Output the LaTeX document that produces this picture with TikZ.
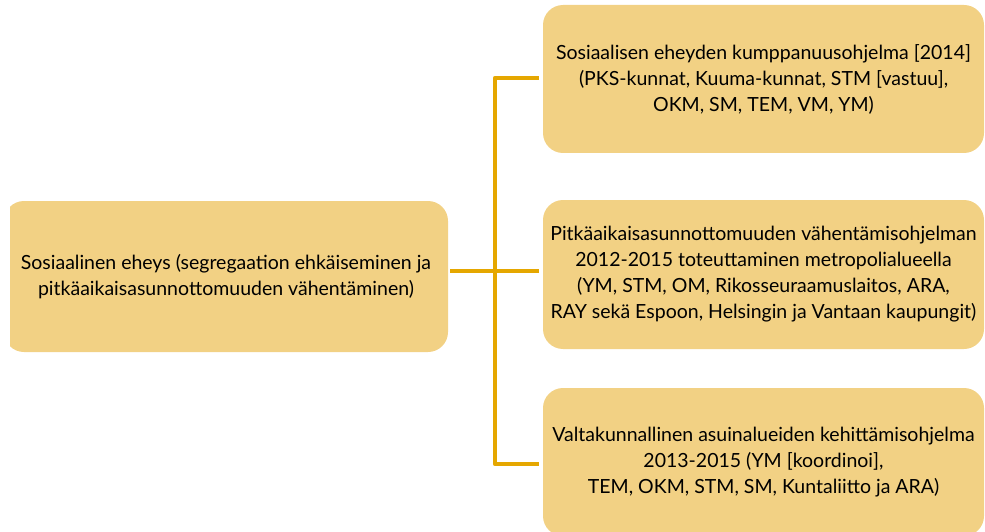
\documentclass[tikz,border=0pt]{standalone}
\usepackage{fontspec}
\setmainfont{Lato}
\definecolor{boxfill}{HTML}{F2D184}
\definecolor{linecol}{HTML}{E5A700}
\begin{document}
\begin{tikzpicture}[x=1pt,y={(0pt,-1pt)},
  box/.style={fill=boxfill,rounded corners=20pt,inner sep=0pt,align=center,
    font=\fontsize{19.5}{26}\selectfont,text=black},
  conn/.style={draw=linecol,line width=4.5pt,line join=round,line cap=butt}]
\useasboundingbox (0,0) rectangle (985,532);
\begin{scope}
\clip (10,0) rectangle (985,532);
\node[box,minimum width=444pt,minimum height=151pt] (left) at (226,276.5)
  {Sosiaalinen eheys (segregaation ehkäiseminen ja\\pitkäaikaisasunnottomuuden vähentäminen)};
\end{scope}
\node[box,minimum width=441pt,minimum height=148pt] (top) at (763.5,79)
  {Sosiaalisen eheyden kumppanuusohjelma [2014]\\(PKS-kunnat, Kuuma-kunnat, STM [vastuu],\\OKM, SM, TEM, VM, YM)};
\node[box,minimum width=441pt,minimum height=149pt] (mid) at (763.5,274.5)
  {Pitkäaikaisasunnottomuuden vähentämisohjelman\\2012-2015 toteuttaminen metropolialueella\\(YM, STM, OM, Rikosseuraamuslaitos, ARA,\\RAY sekä Espoon, Helsingin ja Vantaan kaupungit)};
\node[box,minimum width=441pt,minimum height=148pt] (bot) at (763.5,462)
  {Valtakunnallinen asuinalueiden kehittämisohjelma\\2013-2015 (YM [koordinoi],\\TEM, OKM, STM, SM, Kuntaliitto ja ARA)};
\coordinate (j0) at (495,271);
\coordinate (j1) at (495,78);
\coordinate (j3) at (495,464);
\draw[conn] ([xshift=2pt]left.east |- j0) -- (j0) -- ([xshift=-4pt]mid.west |- j0);
\draw[conn] ([xshift=-4pt]top.west |- j1) -- (j1) -- (j3) -- ([xshift=-4pt]bot.west |- j3);
\end{tikzpicture}
\end{document}
